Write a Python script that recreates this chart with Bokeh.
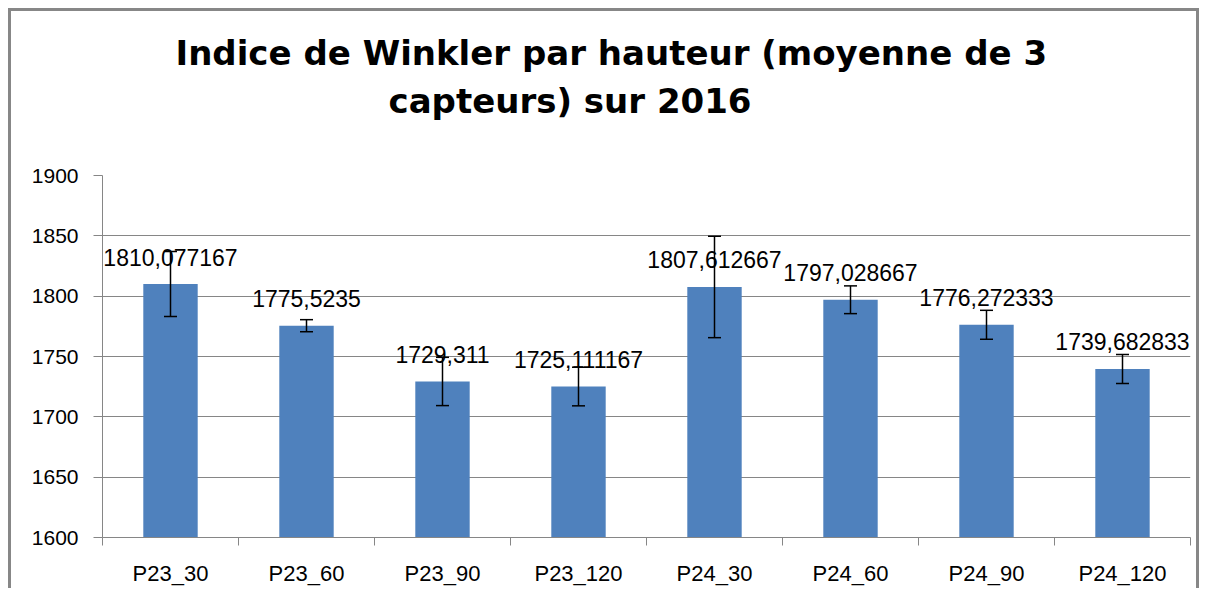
from bokeh.plotting import figure
from bokeh.models import (ColumnDataSource, Range1d, FixedTicker, Whisker, TeeHead,
                          LabelSet, Title)
from bokeh.core.properties import value
from bokeh.embed import file_html
from bokeh.resources import INLINE

categories = ["P23_30", "P23_60", "P23_90", "P23_120", "P24_30", "P24_60", "P24_90", "P24_120"]
values = [1810.077167, 1775.5235, 1729.311, 1725.111167, 1807.612667, 1797.028667, 1776.272333, 1739.682833]
errors = [27, 5, 20, 16, 42, 11.5, 12, 12]
y_ticks = [1600, 1650, 1700, 1750, 1800, 1850, 1900]
title_line1 = "Indice de Winkler par hauteur (moyenne de 3"
title_line2 = "capteurs) sur 2016"

xpos = [i + 0.5 for i in range(len(categories))]
src = ColumnDataSource(dict(
    x=xpos,
    top=values,
    upper=[v + e for v, e in zip(values, errors)],
    lower=[v - e for v, e in zip(values, errors)],
    label=[str(v).replace(".", ",") for v in values],
))

GRAY = "#868686"

p = figure(output_backend="svg", toolbar_location=None,
           frame_width=1088, frame_height=362,
           min_border_left=91, min_border_top=164, min_border_right=6, min_border_bottom=49,
           x_range=Range1d(0, len(categories)), y_range=Range1d(1600, 1900),
           background_fill_color="white", border_fill_color="white")
p.styles = {"border-left": "3px solid #878787", "border-top": "3px solid #878787",
            "border-right": "3px solid #878787", "margin-left": "8px", "margin-top": "8px"}
p.outline_line_color = None

p.vbar(x="x", top="top", bottom=1600, width=0.4, source=src,
       fill_color="#4F81BD", line_color=None)

w = Whisker(base="x", upper="upper", lower="lower", source=src,
            line_color="black", line_width=1.5, level="annotation",
            upper_head=TeeHead(size=13, line_color="black", line_width=1.5),
            lower_head=TeeHead(size=13, line_color="black", line_width=1.5))
p.add_layout(w)

labels = LabelSet(x="x", y="top", text="label", source=src, y_offset=18.5,
                  text_align="center", text_baseline="alphabetic",
                  text_font=value("Liberation Sans"), text_font_size=value("23px"),
                  text_color="black")
p.add_layout(labels)

# Title: spacer nearest the frame, then line 2, then line 1
p.title = None
tfont = dict(text_font="DejaVu Sans", text_font_style="bold", text_font_size="34px",
             text_color="black", align="left")
p.add_layout(Title(text=" ", standoff=10, **tfont), "above")
p.add_layout(Title(text=title_line2, offset=286, standoff=6, **tfont), "above")
p.add_layout(Title(text=title_line1, offset=73, standoff=6, **tfont), "above")

# Y axis
p.yaxis.ticker = FixedTicker(ticks=y_ticks)
p.yaxis.axis_line_color = GRAY
p.yaxis.major_tick_line_color = GRAY
p.yaxis.major_tick_out = 9
p.yaxis.major_tick_in = 0
p.yaxis.minor_tick_line_color = None
p.yaxis.major_label_standoff = 15
p.yaxis.major_label_text_font = "Liberation Sans"
p.yaxis.major_label_text_font_size = "21px"
p.yaxis.major_label_text_color = "black"

# X axis: labels at centres, ticks at boundaries
p.xaxis.ticker = FixedTicker(ticks=xpos, minor_ticks=list(range(len(categories) + 1)))
p.xaxis.major_label_overrides = {x: c for x, c in zip(xpos, categories)}
p.xaxis.axis_line_color = GRAY
p.xaxis.major_tick_line_color = None
p.xaxis.major_tick_out = 0
p.xaxis.major_tick_in = 0
p.xaxis.minor_tick_line_color = GRAY
p.xaxis.minor_tick_out = 8
p.xaxis.minor_tick_in = 0
p.xaxis.major_label_standoff = 15
p.xaxis.major_label_text_font = "Liberation Sans"
p.xaxis.major_label_text_font_size = "22px"
p.xaxis.major_label_text_color = "black"

p.xgrid.grid_line_color = None
p.ygrid.ticker = FixedTicker(ticks=y_ticks)
p.ygrid.grid_line_color = GRAY
p.ygrid.grid_line_width = 1

open("out.html", "w").write(file_html(p, INLINE))
